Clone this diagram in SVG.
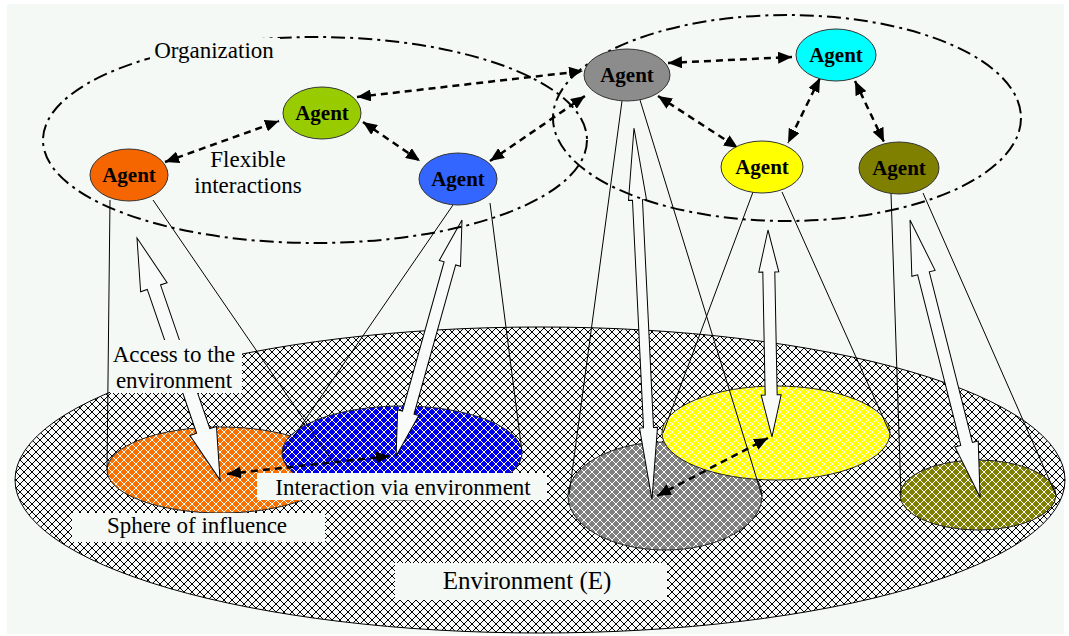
<svg xmlns="http://www.w3.org/2000/svg" width="1069" height="636" viewBox="0 0 1069 636">
<style>
.bg{fill:#f5f9f6}
.agent{stroke:#333;stroke-width:1}
.agent-t{font-family:'Liberation Serif','Times New Roman',serif;font-weight:bold;font-size:21px;text-anchor:middle;fill:#000}
.lbl{font-family:'Liberation Serif','Times New Roman',serif;font-size:23px;text-anchor:middle;fill:#000}
.org{fill:none;stroke:#000;stroke-width:2;stroke-dasharray:14 5 3 5}
.cone{fill:none;stroke:#000;stroke-width:1}
.hollow{fill:#f8fbf9;stroke:#000;stroke-width:1;stroke-linejoin:miter}
.dash{fill:none;stroke:#000;stroke-width:2.5;stroke-dasharray:7 5;marker-start:url(#ah);marker-end:url(#ah)}
.sphere{stroke:#222;stroke-width:1}
.hl{shape-rendering:crispEdges;stroke-width:1}
</style>
<defs>
<pattern id="hK" width="8" height="8" patternUnits="userSpaceOnUse"><rect width="8" height="8" fill="#f7faf8"/><path class="hl" d="M0,0L8,8M8,0L0,8" stroke="#000"/></pattern>
<pattern id="hO" width="8" height="8" patternUnits="userSpaceOnUse"><rect width="8" height="8" fill="#f77000"/><path class="hl" d="M0,0L8,8M8,0L0,8" stroke="#fff"/></pattern>
<pattern id="hB" width="8" height="8" patternUnits="userSpaceOnUse"><rect width="8" height="8" fill="#0000f0"/><path class="hl" d="M0,0L8,8M8,0L0,8" stroke="#fff"/></pattern>
<pattern id="hG" width="8" height="8" patternUnits="userSpaceOnUse"><rect width="8" height="8" fill="#808080"/><path class="hl" d="M0,0L8,8M8,0L0,8" stroke="#fff"/></pattern>
<pattern id="hY" width="8" height="8" patternUnits="userSpaceOnUse"><rect width="8" height="8" fill="#ffff00"/><path class="hl" d="M0,0L8,8M8,0L0,8" stroke="#fff"/></pattern>
<pattern id="hL" width="8" height="8" patternUnits="userSpaceOnUse"><rect width="8" height="8" fill="#808000"/><path class="hl" d="M0,0L8,8M8,0L0,8" stroke="#fff"/></pattern>
<marker id="ah" viewBox="0 0 14 12" refX="14" refY="6" markerWidth="14" markerHeight="12" markerUnits="userSpaceOnUse" orient="auto-start-reverse"><path d="M0,0L14,6L0,12Z" fill="#000"/></marker>
</defs>
<rect width="1069" height="636" fill="#fff"/>
<rect class="bg" x="7" y="4" width="1057" height="630"/>

<g id="environment">
<ellipse cx="540" cy="480" rx="525" ry="153" fill="url(#hK)" stroke="#000" stroke-width="1"/>
</g>

<g id="spheres">
<ellipse id="sphere-orange" class="sphere" cx="221" cy="470" rx="114" ry="43" fill="url(#hO)"/>
<ellipse id="sphere-blue" class="sphere" cx="402" cy="453" rx="120" ry="47" fill="url(#hB)"/>
<ellipse id="sphere-gray" class="sphere" cx="665" cy="496" rx="97" ry="54" fill="url(#hG)"/>
<ellipse id="sphere-yellow" class="sphere" cx="776" cy="433" rx="114" ry="47" fill="url(#hY)"/>
<ellipse id="sphere-olive" class="sphere" cx="978" cy="495" rx="78" ry="35" fill="url(#hL)"/>
</g>

<g id="connectors">
<g id="cones">
<line class="cone" x1="110" y1="200" x2="107" y2="470"/>
<line class="cone" x1="153" y1="200" x2="335" y2="465"/>
<line class="cone" x1="453" y1="205" x2="283" y2="452"/>
<line class="cone" x1="490" y1="203" x2="522" y2="452"/>
<line class="cone" x1="622" y1="101" x2="569" y2="495"/>
<line class="cone" x1="640" y1="100" x2="762" y2="496"/>
<line class="cone" x1="753" y1="192" x2="663" y2="433"/>
<line class="cone" x1="782" y1="192" x2="890" y2="433"/>
<line class="cone" x1="891" y1="193" x2="901" y2="495"/>
<line class="cone" x1="923" y1="193" x2="1056" y2="495"/>
</g>
<g id="access-arrows">
<path class="hollow" transform="translate(137,238) rotate(71.06)" d="M0,0L52,-14L52,-7L204,-7L204,-14L256,0L204,14L204,7L52,7L52,14Z"/>
<path class="hollow" transform="translate(462,220) rotate(105.6)" d="M0,0L45,-11L45,-6L200,-6L200,-11L245,0L200,11L200,6L45,6L45,11Z"/>
<path class="hollow" transform="translate(634,128) rotate(87.23)" d="M0,0L72,-9L72,-5L300,-5L300,-9L372,0L300,9L300,5L72,5L72,9Z"/>
<path class="hollow" transform="translate(768,230) rotate(88.9)" d="M0,0L42,-10L42,-6L165,-6L165,-10L207,0L165,10L165,6L42,6L42,10Z"/>
<path class="hollow" transform="translate(910,220) rotate(75.82)" d="M0,0L55,-12L55,-6L231,-6L231,-12L286,0L231,12L231,6L55,6L55,12Z"/>
</g>
<g id="interactions">
<line class="dash" x1="165" y1="162" x2="279" y2="121"/>
<line class="dash" x1="363" y1="122" x2="420" y2="161"/>
<line class="dash" x1="357" y1="97" x2="583" y2="71"/>
<line class="dash" x1="490" y1="161" x2="585" y2="96"/>
<line class="dash" x1="668" y1="63" x2="792" y2="57"/>
<line class="dash" x1="658" y1="96" x2="738" y2="148"/>
<line class="dash" x1="820" y1="78" x2="788" y2="143"/>
<line class="dash" x1="855" y1="81" x2="884" y2="142"/>
<line class="dash" x1="227" y1="474" x2="390" y2="456"/>
<line class="dash" x1="657" y1="496" x2="768" y2="438"/>
</g>
</g>

<g id="organizations">
<ellipse class="org" cx="315" cy="140" rx="272" ry="103"/>
<ellipse class="org" cx="787" cy="118" rx="234" ry="103"/>
</g>

<g id="labels">
<rect class="bg" x="150" y="38" width="130" height="27"/>
<text class="lbl" x="214" y="58">Organization</text>
<text class="lbl" x="248" y="167">Flexible</text>
<text class="lbl" x="248" y="193">interactions</text>
<rect class="bg" x="110" y="340" width="132" height="53"/>
<text class="lbl" x="174" y="362">Access to the</text>
<text class="lbl" x="174" y="388">environment</text>
<rect class="bg" x="72" y="513" width="253" height="29"/>
<text class="lbl" x="197" y="533">Sphere of influence</text>
<rect class="bg" x="257" y="473" width="290" height="27"/>
<text class="lbl" x="403" y="495">Interaction via environment</text>
<rect class="bg" x="395" y="563" width="272" height="37"/>
<text class="lbl" x="527" y="589" style="font-size:25px">Environment (E)</text>
</g>

<g id="agent-orange"><ellipse class="agent" cx="129" cy="175" rx="39" ry="26" fill="#f56600"/><text class="agent-t" x="129" y="182">Agent</text></g>
<g id="agent-green"><ellipse class="agent" cx="322" cy="113" rx="39" ry="26" fill="#99cc00"/><text class="agent-t" x="322" y="120">Agent</text></g>
<g id="agent-blue"><ellipse class="agent" cx="458" cy="179" rx="39" ry="26" fill="#3366ff"/><text class="agent-t" x="458" y="186">Agent</text></g>
<g id="agent-gray"><ellipse class="agent" cx="627" cy="75" rx="43" ry="26" fill="#8c8c8c"/><text class="agent-t" x="627" y="82">Agent</text></g>
<g id="agent-cyan"><ellipse class="agent" cx="836" cy="55" rx="40" ry="26" fill="#00ffff"/><text class="agent-t" x="836" y="62">Agent</text></g>
<g id="agent-yellow"><ellipse class="agent" cx="762" cy="167" rx="41" ry="26" fill="#ffff00"/><text class="agent-t" x="762" y="174">Agent</text></g>
<g id="agent-olive"><ellipse class="agent" cx="899" cy="168" rx="40" ry="26" fill="#808000"/><text class="agent-t" x="899" y="175">Agent</text></g>
</svg>
